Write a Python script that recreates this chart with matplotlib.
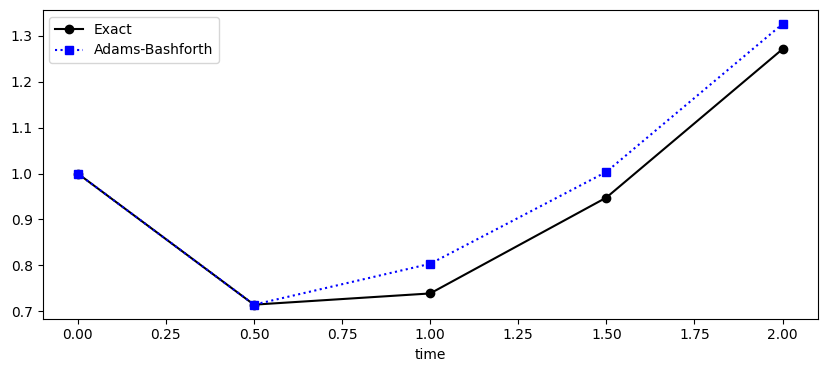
import matplotlib
matplotlib.use("Agg")
import matplotlib.pyplot as plt

# values
time = [0.0, 0.5, 1.0, 1.5, 2.0]
exact = [1.0, 0.7146, 0.739, 0.9476, 1.2707]
adams_bashforth = [1.0, 0.7146, 0.8035, 1.0035, 1.3253]

fig = plt.figure(figsize=(8.26, 3.71), dpi=100)
ax = fig.add_subplot(111)
fig.subplots_adjust(left=0.0515, right=0.990, top=0.973, bottom=0.141)

ax.plot(time, exact, "k-o", label="Exact")
ax.plot(time, adams_bashforth, "b:s", label="Adams-Bashforth")

ax.set_xlabel("time")
ax.legend(loc="upper left")

fig.savefig("out.png", dpi=100)
